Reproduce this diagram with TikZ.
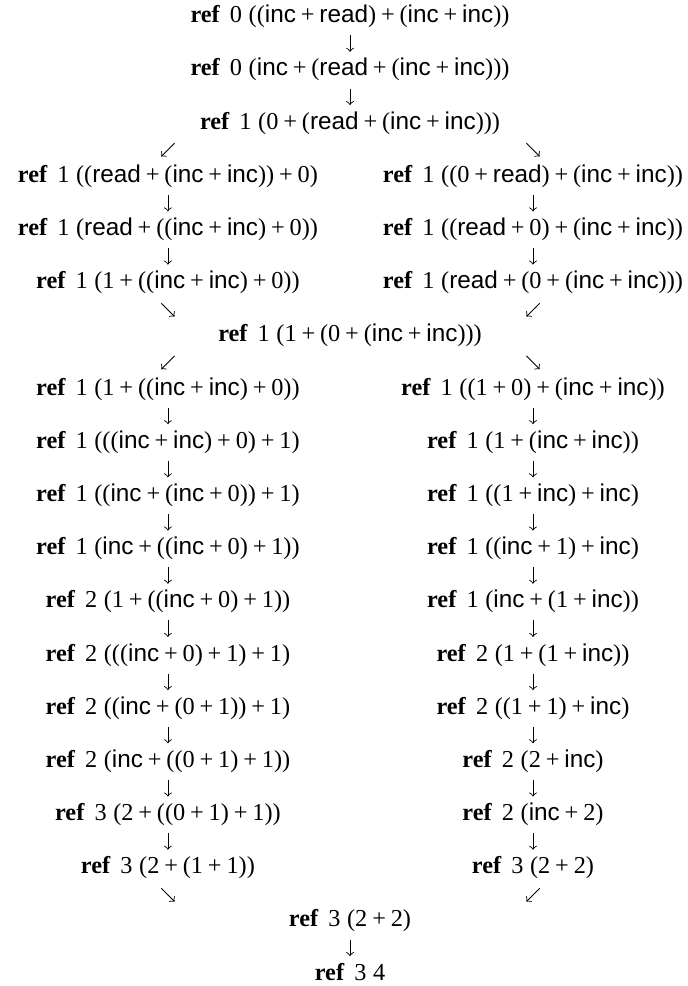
\documentclass[tikz,border=0pt]{standalone}
\usepackage{fontspec}
\setmainfont{Liberation Serif}
\setsansfont{Liberation Sans}
\usetikzlibrary{positioning,calc}

\newcommand{\kinc}{\textsf{inc}}
\newcommand{\kread}{\textsf{read}}
\newcommand{\pl}{\hspace{2.2pt}+\hspace{2.2pt}}
\newcommand{\refst}[2]{\textbf{ref}\hspace{4.5pt}#1\hspace{3pt}#2}

\begin{document}
\begin{tikzpicture}[
  row/.style={inner sep=0pt, outer sep=0pt, text height=7.5pt, text depth=2.5pt,
    font=\fontsize{11}{13}\selectfont},
  darr/.style={->, shorten <=3.2pt, shorten >=3.4pt},
  diag/.style={->},
  node distance=14.07pt
]
  \useasboundingbox (0,0) rectangle (311.3pt,-446.2pt);
  % top chain
  \node[row, anchor=base] (t1) at (158.4pt,-10.3pt) {\refst{0}{((\kinc\pl\kread)\pl(\kinc\pl\kinc))}};
  \node[row, below=of t1] (t2) {\refst{0}{(\kinc\pl(\kread\pl(\kinc\pl\kinc)))}};
  \node[row, below=of t2] (t3) {\refst{1}{(0\pl(\kread\pl(\kinc\pl\kinc)))}};
  \draw[darr] (t1) -- (t2);
  \draw[darr] (t2) -- (t3);

  % first split
  \node[row, below=of t3, xshift=-82.4pt] (l4) {\refst{1}{((\kread\pl(\kinc\pl\kinc))\pl0)}};
  \node[row, below=of l4] (l5) {\refst{1}{(\kread\pl((\kinc\pl\kinc)\pl0))}};
  \node[row, below=of l5] (l6) {\refst{1}{(1\pl((\kinc\pl\kinc)\pl0))}};
  \node[row, below=of t3, xshift=82.8pt] (r4) {\refst{1}{((0\pl\kread)\pl(\kinc\pl\kinc))}};
  \node[row, below=of r4] (r5) {\refst{1}{((\kread\pl0)\pl(\kinc\pl\kinc))}};
  \node[row, below=of r5] (r6) {\refst{1}{(\kread\pl(0\pl(\kinc\pl\kinc)))}};
  \draw[diag] ($(l4.north)+(3pt,10.2pt)$) -- ($(l4.north)+(-3pt,4.2pt)$);
  \draw[diag] ($(r4.north)+(-3pt,10.2pt)$) -- ($(r4.north)+(3pt,4.2pt)$);
  \draw[darr] (l4) -- (l5);
  \draw[darr] (l5) -- (l6);
  \draw[darr] (r4) -- (r5);
  \draw[darr] (r5) -- (r6);

  % merge
  \node[row, below=of l6, xshift=82.4pt] (m7) {\refst{1}{(1\pl(0\pl(\kinc\pl\kinc)))}};
  \draw[diag] ($(l6.south)+(-3pt,-4.1pt)$) -- ($(l6.south)+(3pt,-10.1pt)$);
  \draw[diag] ($(r6.south)+(3pt,-4.1pt)$) -- ($(r6.south)+(-3pt,-10.1pt)$);

  % second split, left
  \node[row, below=of m7, xshift=-82.4pt] (l8) {\refst{1}{(1\pl((\kinc\pl\kinc)\pl0))}};
  \node[row, below=of l8] (l9) {\refst{1}{(((\kinc\pl\kinc)\pl0)\pl1)}};
  \node[row, below=of l9] (l10) {\refst{1}{((\kinc\pl(\kinc\pl0))\pl1)}};
  \node[row, below=of l10] (l11) {\refst{1}{(\kinc\pl((\kinc\pl0)\pl1))}};
  \node[row, below=of l11] (l12) {\refst{2}{(1\pl((\kinc\pl0)\pl1))}};
  \node[row, below=of l12] (l13) {\refst{2}{(((\kinc\pl0)\pl1)\pl1)}};
  \node[row, below=of l13] (l14) {\refst{2}{((\kinc\pl(0\pl1))\pl1)}};
  \node[row, below=of l14] (l15) {\refst{2}{(\kinc\pl((0\pl1)\pl1))}};
  \node[row, below=of l15] (l16) {\refst{3}{(2\pl((0\pl1)\pl1))}};
  \node[row, below=of l16] (l17) {\refst{3}{(2\pl(1\pl1))}};

  % second split, right
  \node[row, below=of m7, xshift=82.8pt] (r8) {\refst{1}{((1\pl0)\pl(\kinc\pl\kinc))}};
  \node[row, below=of r8] (r9) {\refst{1}{(1\pl(\kinc\pl\kinc))}};
  \node[row, below=of r9] (r10) {\refst{1}{((1\pl\kinc)\pl\kinc)}};
  \node[row, below=of r10] (r11) {\refst{1}{((\kinc\pl1)\pl\kinc)}};
  \node[row, below=of r11] (r12) {\refst{1}{(\kinc\pl(1\pl\kinc))}};
  \node[row, below=of r12] (r13) {\refst{2}{(1\pl(1\pl\kinc))}};
  \node[row, below=of r13] (r14) {\refst{2}{((1\pl1)\pl\kinc)}};
  \node[row, below=of r14] (r15) {\refst{2}{(2\pl\kinc)}};
  \node[row, below=of r15] (r16) {\refst{2}{(\kinc\pl2)}};
  \node[row, below=of r16] (r17) {\refst{3}{(2\pl2)}};

  \draw[diag] ($(l8.north)+(3pt,10.2pt)$) -- ($(l8.north)+(-3pt,4.2pt)$);
  \draw[diag] ($(r8.north)+(-3pt,10.2pt)$) -- ($(r8.north)+(3pt,4.2pt)$);
  \foreach \a/\b in {l8/l9,l9/l10,l10/l11,l11/l12,l12/l13,l13/l14,l14/l15,l15/l16,l16/l17,
                     r8/r9,r9/r10,r10/r11,r11/r12,r12/r13,r13/r14,r14/r15,r15/r16,r16/r17}
    \draw[darr] (\a) -- (\b);

  % final merge
  \node[row, below=of l17, xshift=82.4pt] (f18) {\refst{3}{(2\pl2)}};
  \node[row, below=of f18] (f19) {\refst{3}{4}};
  \draw[diag] ($(l17.south)+(-3pt,-4.1pt)$) -- ($(l17.south)+(3pt,-10.1pt)$);
  \draw[diag] ($(r17.south)+(3pt,-4.1pt)$) -- ($(r17.south)+(-3pt,-10.1pt)$);
  \draw[darr] (f18) -- (f19);
\end{tikzpicture}
\end{document}
